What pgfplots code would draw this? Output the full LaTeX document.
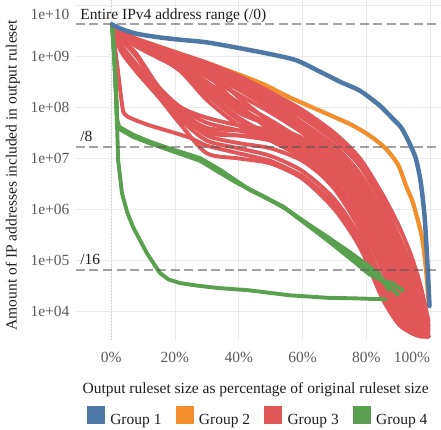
\documentclass[border=0pt]{standalone}
\usepackage{fontspec}
\setmainfont{Liberation Serif}
\usepackage{pgfplots}
\usepackage{pgfplotstable}
\pgfplotsset{compat=1.18}

\definecolor{g1}{HTML}{4E79A7}
\definecolor{g2}{HTML}{F28E2B}
\definecolor{g3}{HTML}{E15759}
\definecolor{g4}{HTML}{59A14F}
\definecolor{gridc}{HTML}{EBEBEB}
\definecolor{tickc}{HTML}{5A5A5A}
\definecolor{textc}{HTML}{1E1E1E}
\definecolor{refc}{HTML}{555555}
\newcommand{\chartfont}{\fontsize{15.5}{18}\selectfont}

% Group 3: one column per ruleset (IP addresses covered vs. output size in %)
\pgfplotstableread{
x r1 r2 r3 r4 r5 r6 r7 r8 r9 r10 r11 r12 r13 r15 r16 r17 r18 r19 r20 r21 r22 r23 r24 r26
0.3 4.29e9 4.29e9 4.29e9 4.29e9 4.29e9 4.29e9 4.29e9 4.29e9 4.29e9 4.29e9 4.29e9 4.29e9 4.29e9 4.29e9 4.29e9 4.29e9 4.29e9 4.29e9 4.29e9 4.29e9 4.29e9 4.29e9 4.29e9 4.29e9
3 3.16e9 3.02e9 2.95e9 2.82e9 2.88e9 2.75e9 2.63e9 2.82e9 1.41e9 1.58e9 1.78e9 1.66e9 1.32e9 3.09e9 1.51e9 2.75e9 2.82e9 2.24e9 2.40e9 2.95e9 2.75e9 2.88e9 2.69e9 3.02e9
8 2.24e9 2.09e9 2.00e9 1.91e9 1.78e9 1.66e9 1.58e9 2.00e9 5.62e8 6.31e8 7.08e8 6.61e8 5.01e8 2.14e9 6.03e8 1.66e9 1.78e9 1.00e9 1.12e9 2.04e9 1.82e9 1.95e9 1.62e9 2.14e9
15 1.58e9 1.41e9 1.32e9 1.20e9 1.12e9 1.00e9 9.33e8 1.26e9 1.78e8 2.00e8 2.24e8 2.09e8 1.58e8 1.48e9 1.91e8 9.55e8 1.05e9 2.40e8 2.51e8 1.38e9 1.12e9 1.26e9 9.77e8 1.45e9
22 1.12e9 1.00e9 8.91e8 7.94e8 7.08e8 5.62e8 5.62e8 8.91e8 5.62e7 7.08e7 8.91e7 7.94e7 4.47e7 1.00e9 6.31e7 5.25e8 6.31e8 9.55e7 1.00e8 9.55e8 6.31e8 8.32e8 5.01e8 1.05e9
30 7.59e8 6.31e8 5.25e8 3.98e8 3.16e8 2.24e8 2.00e8 4.47e8 2.24e7 2.82e7 3.55e7 3.98e7 1.26e7 5.62e8 3.16e7 1.78e8 2.51e8 5.01e7 6.31e7 6.03e8 2.82e8 4.79e8 1.41e8 6.92e8
40 4.17e8 3.16e8 2.51e8 1.78e8 1.26e8 8.91e7 6.31e7 1.12e8 1.58e7 2.00e7 2.82e7 3.55e7 1.00e7 1.58e8 2.82e7 5.62e7 7.94e7 3.55e7 4.47e7 2.82e8 1.00e8 2.24e8 4.47e7 3.63e8
50 2.00e8 1.41e8 1.12e8 7.94e7 5.62e7 3.98e7 2.82e7 3.55e7 1.12e7 1.58e7 2.24e7 3.16e7 7.94e6 5.01e7 2.82e7 2.82e7 4.47e7 2.51e7 3.55e7 1.26e8 4.47e7 9.55e7 2.24e7 1.66e8
60 8.91e7 6.31e7 4.47e7 3.16e7 2.24e7 1.58e7 1.12e7 1.26e7 5.62e6 8.91e6 1.26e7 2.00e7 3.98e6 1.78e7 2.24e7 1.41e7 2.51e7 1.12e7 1.78e7 5.01e7 2.00e7 3.80e7 1.00e7 7.41e7
70 3.16e7 2.24e7 1.41e7 1.00e7 7.08e6 5.01e6 3.16e6 3.55e6 1.58e6 2.82e6 4.47e6 7.94e6 1.00e6 5.01e6 1.00e7 5.01e6 1.00e7 3.55e6 6.31e6 1.78e7 6.31e6 1.26e7 2.51e6 2.63e7
78 1.00e7 7.08e6 3.98e6 2.51e6 1.58e6 1.00e6 5.62e5 7.94e5 2.82e5 6.31e5 1.12e6 2.00e6 1.78e5 1.12e6 2.82e6 1.26e6 2.82e6 7.08e5 1.58e6 5.01e6 1.41e6 3.31e6 3.98e5 8.32e6
85 2.00e6 1.26e6 7.08e5 3.98e5 2.24e5 1.26e5 6.31e4 1.00e5 2.82e4 7.94e4 1.58e5 2.82e5 1.78e4 1.41e5 5.01e5 1.78e5 4.47e5 8.91e4 2.24e5 8.91e5 1.78e5 5.62e5 3.98e4 1.58e6
90 5.01e5 2.51e5 1.41e5 7.94e4 3.98e4 2.24e4 1.12e4 1.78e4 7.08e3 1.58e4 3.16e4 5.01e4 5.62e3 2.51e4 1.00e5 3.16e4 7.94e4 1.58e4 3.98e4 1.78e5 2.82e4 1.12e5 8.91e3 3.16e5
94 1.26e5 6.31e4 3.55e4 2.00e4 1.12e4 7.08e3 5.01e3 6.31e3 3.98e3 5.62e3 8.91e3 1.26e4 3.72e3 7.94e3 2.51e4 1.00e4 1.78e4 5.62e3 1.00e4 3.98e4 8.91e3 2.82e4 4.47e3 7.94e4
97 3.16e4 1.58e4 1.00e4 7.08e3 5.01e3 3.98e3 3.55e3 3.98e3 3.31e3 3.55e3 4.47e3 5.01e3 3.16e3 4.17e3 7.94e3 5.01e3 6.31e3 3.55e3 4.47e3 1.12e4 4.47e3 8.91e3 3.39e3 2.00e4
99.5 6.31e3 5.01e3 4.47e3 3.98e3 3.55e3 3.31e3 3.16e3 3.31e3 3.16e3 3.16e3 3.31e3 3.55e3 3.16e3 3.31e3 4.17e3 3.55e3 3.80e3 3.16e3 3.31e3 4.47e3 3.31e3 4.17e3 3.16e3 5.25e3
}\redtab

\begin{document}
\begin{tikzpicture}
\path[use as bounding box] (-76pt,-90pt) rectangle (365pt,340pt);
\begin{axis}[
  at={(0pt,0pt)}, anchor=south west,
  scale only axis, width=365pt, height=340pt,
  xmin=-11, xmax=103.4,
  ymode=log, ymin=2.7e3, ymax=1.3e10,
  axis line style={draw=none},
  major tick length=0pt, minor tick length=0pt,
  grid=major, grid style={gridc, line width=0.8pt},
  xtick={0,20,40,60,80,100},
  xticklabels={0\%,20\%,40\%,60\%,80\%,\llap{100\%}},
  ytick={1e4,1e5,1e6,1e7,1e8,1e9,1e10},
  yticklabels={1e+04,1e+05,1e+06,1e+07,1e+08,1e+09,\raisebox{-9pt}[\height][\depth]{1e+10}},
  ticklabel style={font=\chartfont, text=tickc},
  xticklabel style={yshift=-9pt},
  yticklabel style={xshift=-3pt},
  xlabel={Output ruleset size as percentage of original ruleset size},
  ylabel={Amount of IP addresses included in output ruleset},
  label style={font=\chartfont, text=textc},
  xlabel style={at={(axis description cs:0.492,-0.147)}, anchor=center},
  ylabel style={at={(axis description cs:-0.173,0.485)}, anchor=center},
  legend columns=4,
  legend cell align=left,
  legend style={at={(axis description cs:0.499,-0.226)}, anchor=center,
    draw=none, fill=none, font=\chartfont, text=textc,
    /tikz/every odd column/.append style={column sep=4pt},
    /tikz/every even column/.append style={column sep=12pt}},
]
\addlegendimage{legend image code/.code={\fill[g1] (0pt,-3.5pt) rectangle (17pt,13.5pt);}}
\addlegendentry{Group 1}
\addlegendimage{legend image code/.code={\fill[g2] (0pt,-3.5pt) rectangle (17pt,13.5pt);}}
\addlegendentry{Group 2}
\addlegendimage{legend image code/.code={\fill[g3] (0pt,-3.5pt) rectangle (17pt,13.5pt);}}
\addlegendentry{Group 3}
\addlegendimage{legend image code/.code={\fill[g4] (0pt,-3.5pt) rectangle (17pt,13.5pt);}}
\addlegendentry{Group 4}

% zero marker
\addplot[gray!45, line width=0.9pt, dash pattern=on 1pt off 2pt, forget plot]
  coordinates {(0,2.7e3) (0,1.3e10)};

% Group 2
\addplot[g2, line width=4.2pt, smooth, tension=0.45, line cap=round, line join=round, forget plot] coordinates {
(0.3,4.29e9) (3,3.16e9) (8,2.24e9) (15,1.58e9) (22,1.12e9) (30,7.59e8) (40,4.47e8) (48,2.82e8)
(56,1.58e8) (65,8.91e7) (75,4.68e7) (81,2.82e7) (86,1.58e7) (90,7.41e6) (92.5,2.82e6)
(94.5,1.41e6) (96.5,5.01e5) (97.7,2.24e5) (98.8,5.62e4) (99.6,1.26e4)};

% Group 3
\pgfplotsinvokeforeach{r1,r2,r3,r4,r5,r6,r7,r8,r9,r10,r11,r12,r13,r15,r16,r17,r18,r19,r20,r21,r22,r23,r24,r26}{
  \addplot[g3, line width=3.9pt, smooth, tension=0.45, line cap=round, line join=round, forget plot]
    table[x=x, y=#1] {\redtab};
}
\addplot[g3, line width=3.9pt, smooth, tension=0.3, line cap=round, line join=round, forget plot] coordinates {
(0.3,4.29e9) (2.0,6.31e8) (3.8,8.32e7) (6.6,6.03e7) (12,4.47e7) (19,3.31e7) (25,2.51e7) (30,1.78e7)
(40,1.26e7) (50,8.91e6) (60,4.47e6) (70,1.26e6) (78,2.24e5) (85,2.24e4) (90,6.31e3) (94,3.80e3)
(97,3.31e3) (99.5,3.16e3)};

% Group 4
\addplot[g4, line width=3.9pt, line cap=round, line join=round, forget plot] coordinates {
(0.3,4.29e9) (1.0,1.0e9) (1.6,1.58e8) (1.9,5.62e7) (2.5,4.17e7) (7,2.88e7) (12,2.14e7) (17.5,1.62e7)
(23,1.26e7) (28,1.0e7) (34,6.03e6) (43,2.51e6) (54,1.12e6) (62,4.68e5) (68,2.51e5) (75.6,1.15e5)
(81,6.61e4) (86,3.55e4) (90,2.09e4)};
\addplot[g4, line width=3.9pt, line cap=round, line join=round, forget plot] coordinates {
(0.3,4.29e9) (1.0,1.0e9) (1.6,1.58e8) (1.9,5.01e7) (2.5,3.80e7) (7,2.63e7) (12,2.0e7) (17.5,1.51e7)
(23,1.15e7) (28,8.91e6) (34,5.25e6) (40,3.16e6) (48,1.78e6) (55,1.0e6) (62,5.01e5) (68,2.82e5)
(75,1.41e5) (80,8.32e4) (84,5.25e4) (87,2.63e4)};
\addplot[g4, line width=3.9pt, line cap=round, line join=round, forget plot] coordinates {
(0.3,4.29e9) (1.0,1.0e9) (1.6,1.58e8) (1.9,5.62e7) (2.5,4.17e7) (7,2.88e7) (12,2.14e7) (17.5,1.62e7)
(23,1.26e7) (28,1.0e7) (34,6.03e6) (43,2.51e6) (54,1.12e6) (62,4.68e5) (68,2.40e5) (75.6,1.0e5)
(81,5.25e4) (85,3.98e4) (88,3.55e4) (91.5,2.51e4)};
\addplot[g4, line width=3.9pt, line cap=round, line join=round, forget plot] coordinates {
(0.3,4.29e9) (1.0,1.0e9) (1.5,2.0e8) (1.9,3.98e7) (2.2,9.33e6) (3.4,2.09e6) (5,8.91e5) (6.9,4.47e5)
(9,2.51e5) (11.2,1.38e5) (13.5,8.32e4) (15.3,5.62e4) (18,4.17e4) (21.6,3.55e4) (27,3.16e4)
(34,2.82e4) (43,2.57e4) (56,2.04e4) (68,1.82e4) (76,1.78e4) (86,1.70e4)};

% Group 1
\addplot[g1, line width=4.5pt, smooth, tension=0.45, line cap=round, line join=round, forget plot] coordinates {
(0.3,4.29e9) (3,3.55e9) (8,2.82e9) (15,2.40e9) (22,2.14e9) (30,1.91e9) (40,1.48e9) (50,1.12e9)
(58,8.51e8) (65,5.25e8) (72,3.16e8) (78,2.14e8) (84,1.12e8) (88,6.31e7) (91,3.98e7) (93.5,2.00e7)
(95.5,1.00e7) (97,3.55e6) (98.2,7.94e5) (99,1.26e5) (99.5,3.16e4) (99.8,1.26e4)};

% reference prefix sizes: /0, /8, /16
\addplot[refc, opacity=0.55, line width=2pt, dash pattern=on 9pt off 4.5pt, forget plot]
  coordinates {(-11,4294967296) (103.4,4294967296)};
\addplot[refc, opacity=0.55, line width=2pt, dash pattern=on 9pt off 4.5pt, forget plot]
  coordinates {(-11,16777216) (103.4,16777216)};
\addplot[refc, opacity=0.55, line width=2pt, dash pattern=on 9pt off 4.5pt, forget plot]
  coordinates {(-11,65536) (103.4,65536)};

\node[anchor=base west, inner sep=0pt, font=\chartfont, text=textc, yshift=5pt]
  at (axis cs:-9.7,4294967296) {Entire IPv4 address range (/0)};
\node[anchor=base west, inner sep=0pt, font=\chartfont, text=textc, yshift=5pt]
  at (axis cs:-9.7,16777216) {/8};
\node[anchor=base west, inner sep=0pt, font=\chartfont, text=textc, yshift=5pt]
  at (axis cs:-9.7,65536) {/16};
\end{axis}
\end{tikzpicture}
\end{document}
